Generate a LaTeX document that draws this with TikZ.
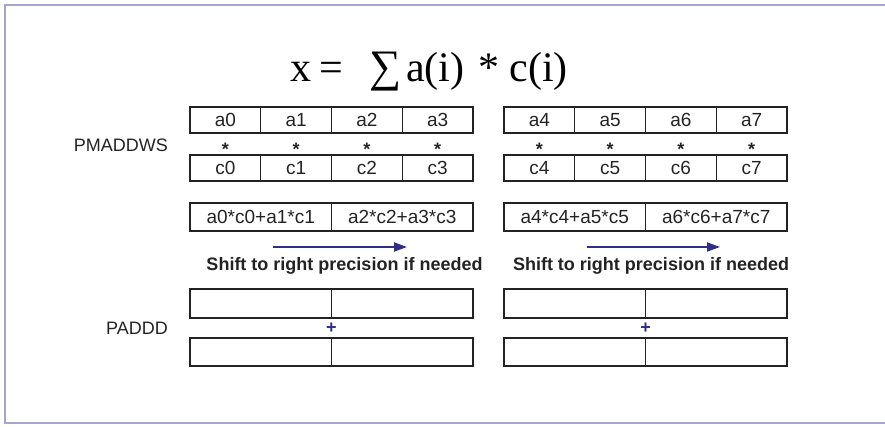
\documentclass[tikz,border=0pt]{standalone}
\usepackage{fontspec}
\setmainfont{Liberation Serif}
\setsansfont{Liberation Sans}
\usetikzlibrary{arrows.meta,positioning}
\definecolor{framecol}{RGB}{165,165,205}
\definecolor{arrcol}{RGB}{50,45,135}
\definecolor{boxcol}{RGB}{35,35,35}
\tikzset{
  cell/.style={draw=boxcol,line width=1.2pt,minimum width=70.75pt,
    minimum height=26pt,inner sep=0pt,outer sep=0pt,text=boxcol,
    font=\sffamily\fontsize{19}{19}\selectfont},
  pair/.style={cell,minimum width=141.5pt,minimum height=28pt},
  starsym/.style={anchor=base,inner sep=0pt,text=boxcol,
    font=\sffamily\bfseries\fontsize{18}{18}\selectfont},
  plussym/.style={inner sep=0pt,text=arrcol,
    font=\sffamily\bfseries\fontsize{18}{18}\selectfont},
  oplabel/.style={anchor=east,inner sep=0pt,text=boxcol,
    font=\sffamily\fontsize{18}{18}\selectfont},
  shiftlabel/.style={inner sep=0pt,text=boxcol,
    font=\sffamily\bfseries\fontsize{18}{18}\selectfont},
  shiftarrow/.style={arrcol,line width=2pt,
    -{Triangle[length=13pt,width=9pt]}}
}
\begin{document}
\begin{tikzpicture}[x=1pt,y=-1pt]
  \useasboundingbox (0,0) rectangle (885,426);
  \draw[framecol,line width=1.5pt] (890,5) -- (5,5) -- (5,423) -- (890,423);
  \node[anchor=base,inner sep=0pt,font=\fontsize{42}{42}\selectfont] (title)
    at (429,81) {x\hspace{8pt}=\hspace{26pt}{\fontsize{45}{45}\selectfont ∑}\hspace{5pt}a(i)\hspace{14pt}*\hspace{10pt}c(i)};
  % PMADDWS operands
  \foreach \g/\gx in {0/190,1/504}{
    \foreach \i [evaluate=\i as \n using int(4*\g+\i)] in {0,...,3}{
      \node[cell] (a\n) at (\gx+70.75*\i+35.375,120) {a\n};
      \node[starsym] (st\n) at (\gx+70.75*\i+35.375,155) {*};
      \node[cell] (c\n) at (\gx+70.75*\i+35.375,168) {c\n};
    }
    \foreach \j [evaluate=\j as \m using int(4*\g+2*\j),
                 evaluate=\j as \k using int(4*\g+2*\j+1)] in {0,1}{
      \node[pair] (p\m) at (\gx+141.5*\j+70.75,217) {a\m*c\m+a\k*c\k};
      \node[pair,minimum height=29pt] (u\g\j) at (\gx+141.5*\j+70.75,303.5) {};
      \node[pair] (v\g\j) at (\gx+141.5*\j+70.75,352) {};
    }
    \node[plussym] (plus\g) at (\gx+141.5,328) {+};
  }
  \node[oplabel] (pmaddws) at (168,145) {PMADDWS};
  \node[oplabel] (paddd) at (168,328) {PADDD};
  % shift arrows
  \coordinate (arL0) at (273,247);
  \coordinate (arL1) at (407,247);
  \coordinate (arR0) at (587,247);
  \coordinate (arR1) at (720,247);
  \draw[shiftarrow] (arL0) -- (arL1);
  \draw[shiftarrow] (arR0) -- (arR1);
  \node[shiftlabel] (shL) at (344.5,266) {Shift to right precision if needed};
  \node[shiftlabel] (shR) at (651,266) {Shift to right precision if needed};
\end{tikzpicture}
\end{document}
